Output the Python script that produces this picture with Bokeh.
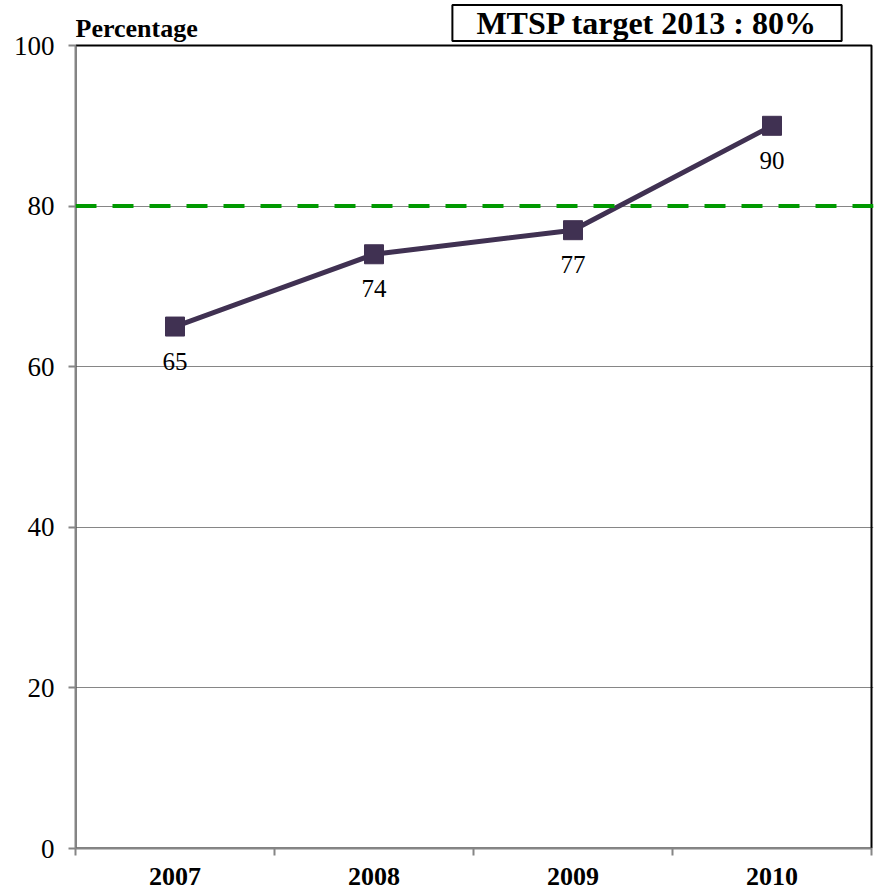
import numpy as np
from bokeh.plotting import figure
from bokeh.models import Range1d, FixedTicker, Label, Span, BoxAnnotation
from bokeh.core.properties import value
from bokeh.embed import file_html
from bokeh.resources import INLINE

# ---- data ----
years = ["2007", "2008", "2009", "2010"]
percentages = [65, 74, 77, 90]
target_value = 80
target_text = "MTSP target 2013 : 80%"
y_ticks = [0, 20, 40, 60, 80, 100]
grid_ticks = [20, 40, 60, 80]
y_max = 100

FONT = "Liberation Serif"
LINE_COLOR = "#403152"
AXIS_GRAY = "#868686"

n = len(years)
x = np.arange(n) + 0.5

# frame spans the whole canvas height above the x axis; the plotted
# area (0..100) occupies the lower 803 px, the header sits above it
FRAME_H, PLOT_H = 848, 803
FRAME_W, PLOT_W = 798, 796
y_top = y_max * FRAME_H / PLOT_H
x_end = n * FRAME_W / PLOT_W

p = figure(width=876, height=892, output_backend="svg", toolbar_location=None,
           x_range=Range1d(0, x_end), y_range=Range1d(0, y_top),
           min_border_left=75, min_border_right=3, min_border_top=0,
           min_border_bottom=44, background_fill_color="white",
           border_fill_color="white")
p.outline_line_color = None

# plot-area border (top/right black; left/bottom covered by grey axes)
p.add_layout(BoxAnnotation(left=0, right=n, bottom=0, top=y_max,
                           fill_alpha=0, line_color="black", line_alpha=1,
                           line_width=2, level="underlay"))

# y axis
ya = p.yaxis[0]
ya.ticker = FixedTicker(ticks=y_ticks)
ya.bounds = (0, y_max)
ya.axis_line_color = AXIS_GRAY
ya.axis_line_width = 2
ya.major_tick_line_color = AXIS_GRAY
ya.major_tick_line_width = 2
ya.major_tick_out = 7
ya.major_tick_in = 0
ya.minor_tick_out = 0
ya.minor_tick_in = 0
ya.major_label_text_font = FONT
ya.major_label_text_font_size = "27px"
ya.major_label_text_color = "black"
ya.major_label_standoff = 14

# x axis
xa = p.xaxis[0]
xa.ticker = FixedTicker(ticks=list(x), minor_ticks=list(range(n + 1)))
xa.bounds = (0, n)
xa.major_label_overrides = {float(xi): y for xi, y in zip(x, years)}
xa.axis_line_color = AXIS_GRAY
xa.axis_line_width = 2
xa.major_tick_out = 0
xa.major_tick_in = 0
xa.minor_tick_line_color = AXIS_GRAY
xa.minor_tick_line_width = 2
xa.minor_tick_out = 7
xa.minor_tick_in = 0
xa.major_label_text_font = FONT
xa.major_label_text_font_style = "bold"
xa.major_label_text_font_size = "26px"
xa.major_label_text_color = "black"
xa.major_label_standoff = 12

# grid
p.xgrid.visible = False
p.ygrid.ticker = FixedTicker(ticks=grid_ticks)
p.ygrid.grid_line_color = AXIS_GRAY
p.ygrid.grid_line_width = 1

# target line
p.add_layout(Span(location=target_value, dimension="width", line_color="#009900",
                  line_width=4, line_dash="21 16"))

# series
p.line(x, percentages, line_color=LINE_COLOR, line_width=5)
p.scatter(x, percentages, marker="square", size=19, fill_color=LINE_COLOR,
          line_color=LINE_COLOR)
p.text(x, percentages, text=[str(v) for v in percentages], text_align="center",
       text_baseline="top", y_offset=26, text_font=value(FONT),
       text_font_size="25px", text_color="black")

# header texts
p.add_layout(Label(x=0, y=102.1, text="Percentage", text_align="left",
                   text_baseline="alphabetic", text_font=FONT,
                   text_font_style="bold", text_font_size="26px",
                   text_color="black"))
p.add_layout(Label(x=2.872, y=102.8, text=target_text, text_align="center",
                   text_baseline="middle", text_font=FONT,
                   text_font_style="bold", text_font_size="32px",
                   text_color="black", border_line_color="black",
                   border_line_width=2, background_fill_color="white",
                   padding=dict(left=24, right=24, top=0, bottom=0)))

open("out.html", "w").write(file_html(p, INLINE))
